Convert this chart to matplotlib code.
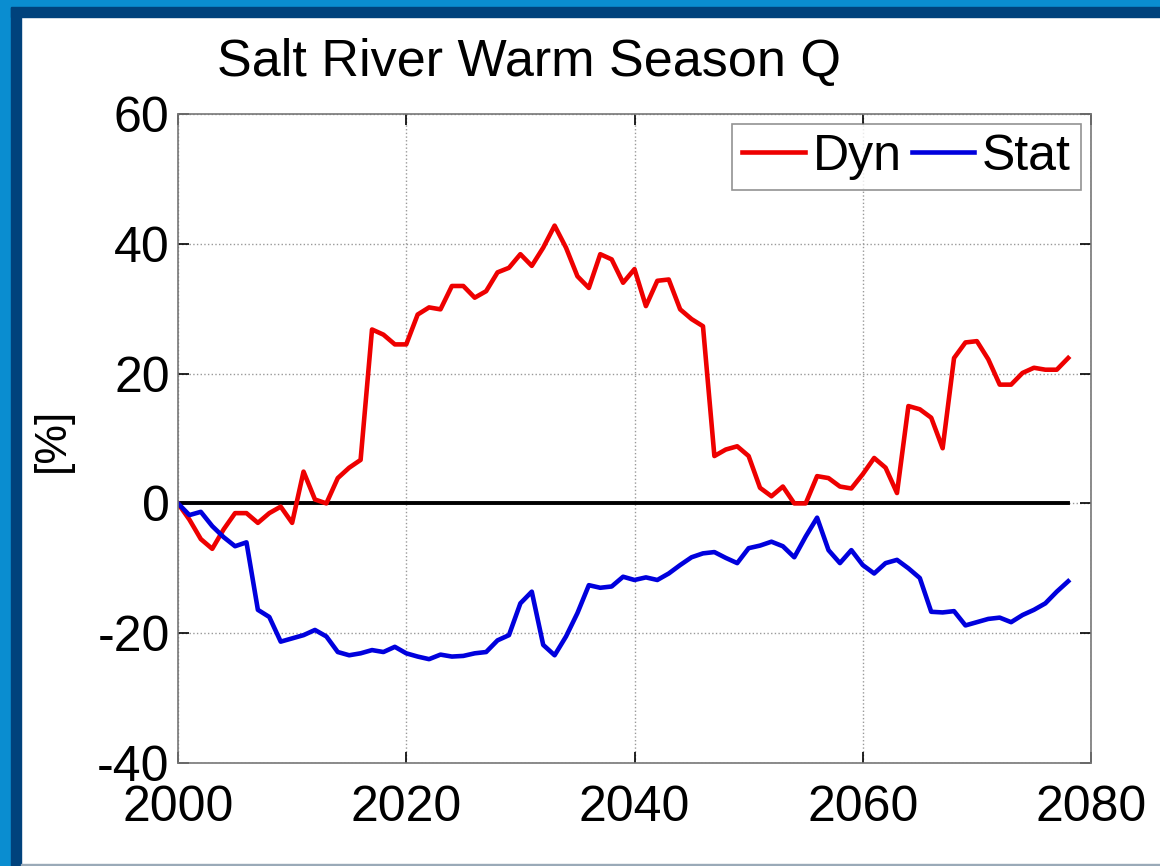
import matplotlib
matplotlib.use('Agg')
import matplotlib.pyplot as plt
from matplotlib.patches import Rectangle

plt.rcParams['font.family'] = ['Liberation Sans', 'DejaVu Sans']
plt.rcParams['axes.unicode_minus'] = False

years = list(range(2000, 2079))

dyn = [0, -2.5, -5.5, -7.0, -4.0, -1.5, -1.5, -3.0, -1.5, -0.5,
       -3.0, 4.9, 0.6, 0.0, 3.9, 5.5, 6.7, 26.8, 26.0, 24.5,
       24.5, 29.1, 30.2, 29.9, 33.5, 33.5, 31.7, 32.7, 35.6, 36.3,
       38.4, 36.6, 39.4, 42.8, 39.4, 35.0, 33.2, 38.4, 37.6, 34.0,
       36.1, 30.4, 34.3, 34.5, 29.9, 28.4, 27.3, 7.3, 8.3, 8.8,
       7.3, 2.4, 1.1, 2.6, 0.0, 0.0, 4.2, 3.9, 2.6, 2.3,
       4.5, 7.0, 5.5, 1.6, 15.0, 14.5, 13.2, 8.5, 22.4, 24.8,
       25.0, 22.2, 18.3, 18.3, 20.1, 20.9, 20.6, 20.6, 22.4]

stat = [0, -1.8, -1.3, -3.5, -5.2, -6.6, -6.0, -16.4, -17.5, -21.3,
        -20.8, -20.3, -19.5, -20.5, -22.9, -23.4, -23.1, -22.6, -22.9, -22.1,
        -23.1, -23.6, -24.0, -23.3, -23.6, -23.5, -23.1, -22.9, -21.1, -20.3,
        -15.4, -13.6, -21.8, -23.4, -20.5, -16.9, -12.6, -13.0, -12.8, -11.3,
        -11.8, -11.4, -11.8, -10.8, -9.5, -8.3, -7.7, -7.5, -8.4, -9.2,
        -6.9, -6.5, -5.9, -6.6, -8.3, -5.1, -2.2, -7.2, -9.2, -7.2,
        -9.5, -10.8, -9.2, -8.7, -10.0, -11.5, -16.7, -16.8, -16.6, -18.8,
        -18.3, -17.8, -17.6, -18.3, -17.2, -16.4, -15.4, -13.6, -12.0]

xticks = [2000, 2020, 2040, 2060, 2080]
yticks = [-40, -20, 0, 20, 40, 60]

fig = plt.figure(figsize=(11.6, 8.66), dpi=100)

# blue frame round the slide
W, H = 1160, 866
light, navy = '#0a8dd0', '#00427c'
fig.patches.append(Rectangle((0, 0), 11 / W, 1, transform=fig.transFigure,
                             color=light, zorder=0))
fig.patches.append(Rectangle((11 / W, 0), 10 / W, 1 - 7 / H, transform=fig.transFigure,
                             color=navy, zorder=0))
fig.patches.append(Rectangle((0, 1 - 7 / H), 1, 7 / H, transform=fig.transFigure,
                             color=light, zorder=0))
fig.patches.append(Rectangle((11 / W, 1 - 17 / H), 1, 10 / H, transform=fig.transFigure,
                             color=navy, zorder=0))
fig.patches.append(Rectangle((21 / W, 0), 1, 2 / H, transform=fig.transFigure,
                             color='#9aaab8', zorder=0))

ax = fig.add_axes([178 / W, 1 - 763 / H, (1091 - 178) / W, (763 - 114) / H])

ax.plot(years, [0] * len(years), color='black', linewidth=2.8)
l1, = ax.plot(years, dyn, color='#ee0000', linewidth=3.3, label='Dyn')
l2, = ax.plot(years, stat, color='#0000dd', linewidth=3.3, label='Stat')

ax.set_xlim(2000, 2080)
ax.set_ylim(-40, 60)
ax.set_xticks(xticks)
ax.set_yticks(yticks)
ax.tick_params(direction='in', length=8, width=1.2, labelsize=36,
               top=True, right=True)
ax.tick_params(axis='x', pad=16)
ax.tick_params(axis='y', pad=6)
ax.grid(True, linestyle=':', color='#999999', linewidth=1.0)
for s in ax.spines.values():
    s.set_color('#777777')
    s.set_linewidth(1.2)

leg = ax.legend(handles=[l1, l2], loc='upper right', ncol=2, fontsize=36,
                frameon=True, fancybox=False, edgecolor='#777777',
                handlelength=1.25, handletextpad=0.16, columnspacing=0.2,
                borderpad=0.2, borderaxespad=0.2)
leg.get_frame().set_linewidth(1.2)

fig.text(529 / W, 1 - 62 / H, 'Salt River Warm Season Q', fontsize=37.5,
         ha='center', va='center')
fig.text(52 / W, 1 - 440 / H, '[%]', fontsize=32, rotation=90,
         ha='center', va='center')

fig.savefig('out.png', dpi=100)
